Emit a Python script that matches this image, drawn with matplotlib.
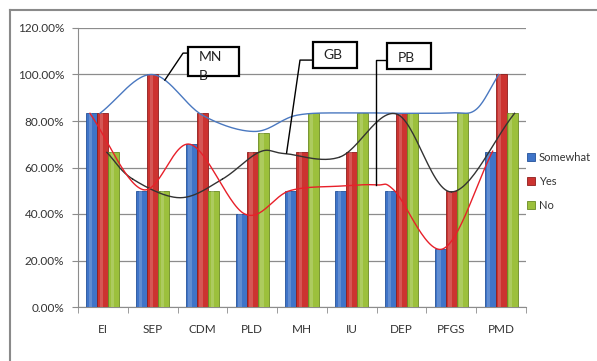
import numpy as np
import matplotlib
matplotlib.use('Agg')
import matplotlib.pyplot as plt
from matplotlib.lines import Line2D
from matplotlib.patches import Rectangle

plt.rcParams['font.family'] = ['Lato', 'DejaVu Sans']

categories = ['EI', 'SEP', 'CDM', 'PLD', 'MH', 'IU', 'DEP', 'PFGS', 'PMD']
somewhat = [83.33, 50.0, 70.0, 40.0, 50.0, 50.0, 50.0, 25.0, 66.67]
yes = [83.33, 100.0, 83.33, 66.67, 66.67, 66.67, 83.33, 50.0, 100.0]
no = [66.67, 50.0, 50.0, 75.0, 83.33, 83.33, 83.33, 83.33, 83.33]

# hand-drawn trend curves (x in category units, y in percent)
mnb_x = [-0.06, 0.98, 2.0, 3.05, 3.9, 5.0, 6.0, 7.0, 7.5, 7.95]
mnb_y = [83.3, 100.0, 82.5, 75.5, 82.5, 83.5, 83.3, 83.5, 85.0, 100.0]
gb_x = [0.08, 0.6, 1.55, 2.4, 3.15, 3.65, 4.76, 5.9, 7.0, 8.27]
gb_y = [66.5, 55.0, 47.0, 55.0, 66.7, 66.0, 64.5, 83.0, 49.5, 83.3]
pb_x = [-0.26, 0.8, 1.75, 2.85, 3.75, 4.76, 5.5, 5.86, 6.83, 7.83]
pb_y = [83.3, 50.5, 70.0, 40.0, 50.0, 52.0, 52.5, 50.0, 25.0, 67.0]


def smooth(xs, ys, n=30):
    # Catmull-Rom spline through the given points
    p = np.column_stack([xs, ys]).astype(float)
    p = np.vstack([2 * p[0] - p[1], p, 2 * p[-1] - p[-2]])
    out = []
    t = np.linspace(0, 1, n)[:, None]
    for i in range(1, len(p) - 2):
        p0, p1, p2, p3 = p[i - 1], p[i], p[i + 1], p[i + 2]
        seg = 0.5 * ((2 * p1) + (-p0 + p2) * t + (2 * p0 - 5 * p1 + 4 * p2 - p3) * t ** 2
                     + (-p0 + 3 * p1 - 3 * p2 + p3) * t ** 3)
        out.append(seg)
    out = np.vstack(out)
    return out[:, 0], out[:, 1]


fig = plt.figure(figsize=(5.97, 3.61), dpi=100)
ax = fig.add_axes([78 / 597, 1 - 307 / 361, 448 / 597, 279 / 361])

x = np.arange(len(categories))
w = 0.222
cols = [('#3f74c8', '#24519a'), ('#cc3330', '#8e1e1c'), ('#9cc03c', '#6a8a22')]
bars = []
for k, (vals, name) in enumerate([(somewhat, 'Somewhat'), (yes, 'Yes'), (no, 'No')]):
    fc, ec = cols[k]
    b = ax.bar(x + (k - 1) * w, vals, w, color=fc, edgecolor=ec, linewidth=0.6,
               label=name, zorder=3)
    # lighter strip to give the bars a rounded look
    ax.bar(x + (k - 1) * w - w * 0.12, vals, w * 0.3, color='white', alpha=0.18,
           linewidth=0, zorder=3)
    bars.append(b)

for xs, ys, c in [(mnb_x, mnb_y, '#4a78c0'), (gb_x, gb_y, '#333333'), (pb_x, pb_y, '#e8202a')]:
    sx, sy = smooth(xs, ys)
    ax.plot(sx, sy, color=c, lw=1.0, zorder=4)

ax.set_xlim(-0.5, len(categories) - 0.5)
ax.set_ylim(0, 120)
ax.set_yticks(np.arange(0, 121, 20))
ax.set_yticklabels(['%.2f%%' % v for v in np.arange(0, 121, 20)], fontsize=8.5, color='#333333')
ax.yaxis.grid(True, color='#8c8c8c', lw=0.9, zorder=0)
ax.set_axisbelow(True)
ax.set_xticks(x)
ax.set_xticklabels(categories, fontsize=8.5, color='#333333')
ax.set_xticks(np.arange(-0.5, len(categories)), minor=True)
ax.tick_params(axis='x', which='major', length=0, pad=12)
ax.tick_params(axis='x', which='minor', length=4, color='#8c8c8c')
ax.tick_params(axis='y', length=4, color='#8c8c8c', pad=6)
for s in ['top', 'right']:
    ax.spines[s].set_visible(False)
for s in ['left', 'bottom']:
    ax.spines[s].set_color('#8c8c8c')

# callout boxes with leader lines
boxes = [((1.71, 99.4), 1.02, 12.4, 'MN\nB', (1.93, 110.0)),
         ((4.22, 102.8), 0.88, 11.2, 'GB', (4.42, 108.3)),
         ((5.70, 102.4), 0.89, 11.1, 'PB', (5.92, 107.3))]
for (bx, by), bw, bh, txt, (tx, ty) in boxes:
    ax.add_patch(Rectangle((bx, by), bw, bh, facecolor='white', edgecolor='black',
                           lw=1.6, zorder=6, clip_on=False))
    ax.text(tx, ty, txt, fontsize=10, va='top' if '\n' in txt else 'center', ha='left',
            linespacing=1.65, zorder=7, clip_on=False, color='#222222')

leaders = [([1.71, 1.61, 1.245], [109.2, 109.2, 97.6]),
           ([4.22, 3.96, 3.69], [106.2, 106.2, 66.2]),
           ([5.70, 5.48, 5.48], [106.2, 106.2, 52.5])]
for lx, ly in leaders:
    ax.plot(lx, ly, color='black', lw=1.0, zorder=5, clip_on=False)

leg = ax.legend(handles=bars, loc='center left', bbox_to_anchor=(1.002, 0.45),
                frameon=False, fontsize=8, handlelength=0.7, handleheight=0.7,
                handletextpad=0.35, labelspacing=1.15, borderaxespad=0, borderpad=0)
for t in leg.get_texts():
    t.set_color('#333333')

# outer chart frame
fig.add_artist(Line2D([10 / 597, 1], [1 - 10 / 361] * 2, color='#8a8a8a', lw=1.5))
fig.add_artist(Line2D([10 / 597] * 2, [0, 1 - 10 / 361], color='#8a8a8a', lw=1.5))

fig.savefig('out.png', dpi=100)
